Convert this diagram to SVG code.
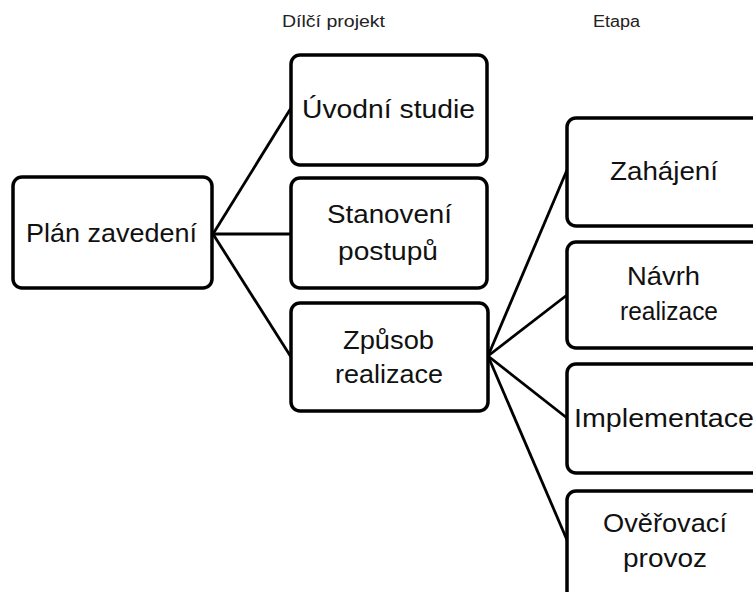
<svg xmlns="http://www.w3.org/2000/svg" width="753" height="592" viewBox="0 0 753 592">
<style>
.box{fill:#fff;stroke:#000;stroke-width:3.5}
.t{font-family:"Liberation Sans",Arial,sans-serif;font-size:25px;fill:#111;text-anchor:middle}
.h{font-family:"Liberation Sans",Arial,sans-serif;font-size:16px;fill:#222;text-anchor:middle}
.c{stroke:#000;stroke-width:2.8;fill:none}
</style>
<rect width="753" height="592" fill="#fff"/>
<g id="headers">
<text class="h" x="333.5" y="27" textLength="103" lengthAdjust="spacingAndGlyphs">Dílčí projekt</text>
<text class="h" x="616.5" y="27" textLength="47" lengthAdjust="spacingAndGlyphs">Etapa</text>
</g>
<g id="connectors">
<line class="c" x1="213" y1="234" x2="291" y2="108"/>
<line class="c" x1="213" y1="234" x2="291" y2="234"/>
<line class="c" x1="213" y1="234" x2="291" y2="357"/>
<line class="c" x1="488" y1="356" x2="567" y2="170"/>
<line class="c" x1="488" y1="356" x2="567" y2="295"/>
<line class="c" x1="488" y1="356" x2="567" y2="418"/>
<line class="c" x1="488" y1="356" x2="567" y2="540"/>
</g>
<g id="plan">
<rect class="box" x="13" y="177" width="199" height="111" rx="9"/>
<text class="t" x="111.5" y="242" textLength="171" lengthAdjust="spacingAndGlyphs">Plán zavedení</text>
</g>
<g id="uvodni">
<rect class="box" x="291" y="55" width="196" height="110" rx="9"/>
<text class="t" x="388.5" y="118" textLength="173" lengthAdjust="spacingAndGlyphs">Úvodní studie</text>
</g>
<g id="stanoveni">
<rect class="box" x="291" y="178" width="196" height="110" rx="9"/>
<text class="t" x="389.5" y="223" textLength="125" lengthAdjust="spacingAndGlyphs">Stanovení</text>
<text class="t" x="388" y="260" textLength="100" lengthAdjust="spacingAndGlyphs">postupů</text>
</g>
<g id="zpusob">
<rect class="box" x="291" y="303" width="197" height="108" rx="9"/>
<text class="t" x="388.5" y="349" textLength="91" lengthAdjust="spacingAndGlyphs">Způsob</text>
<text class="t" x="389" y="383" textLength="108" lengthAdjust="spacingAndGlyphs">realizace</text>
</g>
<g id="zahajeni">
<rect class="box" x="567" y="118" width="197" height="108" rx="9"/>
<text class="t" x="664" y="180" textLength="108" lengthAdjust="spacingAndGlyphs">Zahájení</text>
</g>
<g id="navrh">
<rect class="box" x="567" y="242" width="197" height="106" rx="9"/>
<text class="t" x="663.5" y="285" textLength="73" lengthAdjust="spacingAndGlyphs">Návrh</text>
<text class="t" x="669" y="320" textLength="98" lengthAdjust="spacingAndGlyphs">realizace</text>
</g>
<g id="implementace">
<rect class="box" x="567" y="364" width="197" height="109" rx="9"/>
<text class="t" x="664" y="427" textLength="180" lengthAdjust="spacingAndGlyphs">Implementace</text>
</g>
<g id="overovaci">
<rect class="box" x="567" y="491" width="197" height="110" rx="9"/>
<text class="t" x="665" y="532" textLength="124" lengthAdjust="spacingAndGlyphs">Ověřovací</text>
<text class="t" x="665" y="567" textLength="84" lengthAdjust="spacingAndGlyphs">provoz</text>
</g>
</svg>
